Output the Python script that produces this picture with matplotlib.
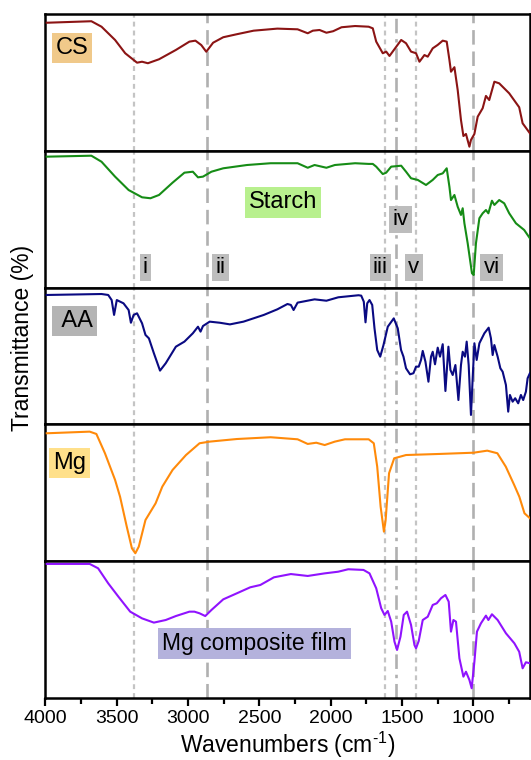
import matplotlib

matplotlib.use("Agg")
import matplotlib.pyplot as plt
from matplotlib.ticker import MultipleLocator

plt.rcParams["font.family"] = ["Liberation Sans", "DejaVu Sans"]
plt.rcParams["mathtext.fontset"] = "custom"
plt.rcParams["mathtext.rm"] = "Liberation Sans"
plt.rcParams["mathtext.it"] = "Liberation Sans:italic"

# ── Spectra (wavenumber cm-1, relative transmittance per panel) ──
CS_WN = [3990, 3677, 3606, 3511, 3440, 3357, 3322, 3281, 3203, 3085, 2990, 2948, 2907,
         2872, 2824, 2753, 2658, 2540, 2374, 2232, 2161, 2125, 2078, 2030, 1983, 1924,
         1829, 1734, 1705, 1681, 1635, 1611, 1588, 1506, 1472, 1437, 1402, 1378, 1343,
         1320, 1285, 1250, 1215, 1187, 1168, 1157, 1133, 1110, 1087, 1070, 1052, 1028,
         1017, 993, 970, 935, 912, 889, 853, 819, 749, 679, 655, 604]
CS_T = [93.6, 94.7, 90.7, 81.0, 71.3, 64.4, 65.1, 64.0, 66.9, 73.7, 79.8, 80.5, 77.3,
        72.4, 79.0, 83.0, 85.2, 87.8, 89.3, 88.8, 85.9, 87.8, 88.3, 86.3, 87.4, 90.3,
        91.2, 90.7, 89.5, 79.8, 71.3, 72.5, 69.3, 81.0, 78.6, 72.5, 71.3, 65.1, 70.0,
        68.8, 74.9, 77.4, 80.5, 79.8, 66.4, 57.8, 61.1, 44.4, 22.5, 10.8, 12.3, 3.0,
        7.9, 12.3, 24.9, 31.1, 40.1, 37.1, 50.5, 49.3, 42.0, 31.8, 20.1, 12.8]

STARCH_WN = [3990, 3677, 3606, 3511, 3416, 3322, 3263, 3203, 3108, 3025, 2966, 2930, 2895,
             2836, 2753, 2587, 2421, 2232, 2161, 2113, 2030, 1971, 1829, 1734, 1705, 1681,
             1635, 1611, 1576, 1506, 1472, 1437, 1390, 1332, 1285, 1250, 1215, 1187, 1168,
             1157, 1133, 1110, 1087, 1075, 1063, 1040, 1010, 998, 982, 958, 935, 912, 895,
             870, 853, 819, 784, 749, 702, 644, 604]
STARCH_T = [95.7, 96.4, 92.0, 81.1, 71.3, 66.0, 65.3, 67.7, 76.7, 84.0, 84.7, 80.6, 81.1,
            84.7, 87.2, 89.6, 90.9, 90.9, 87.6, 89.6, 87.6, 89.6, 90.9, 90.4, 90.4, 88.4,
            83.0, 84.0, 88.4, 89.1, 84.7, 79.9, 78.7, 75.0, 78.7, 82.3, 83.5, 87.2, 73.7,
            64.0, 67.7, 59.1, 53.1, 58.0, 47.0, 32.4, 10.5, 9.2, 32.4, 50.7, 54.3, 56.7, 54.3,
            63.5, 60.4, 64.0, 61.6, 54.3, 47.0, 42.1, 36.0]

AA_WN = [3990, 3606, 3559, 3535, 3518, 3499, 3452, 3416, 3400, 3381, 3357, 3322, 3298,
         3274, 3239, 3196, 3156, 3085, 3025, 2966, 2930, 2912, 2895, 2848, 2777, 2706,
         2611, 2469, 2374, 2303, 2279, 2260, 2232, 2113, 2030, 1947, 1805, 1786, 1768,
         1756, 1744, 1728, 1709, 1693, 1674, 1653, 1630, 1600, 1558, 1530, 1507, 1490,
         1472, 1444, 1420, 1402, 1383, 1367, 1355, 1336, 1315, 1297, 1285, 1269, 1250,
         1234, 1215, 1196, 1175, 1161, 1145, 1126, 1105, 1087, 1075, 1059, 1047, 1033,
         1017, 1005, 993, 977, 958, 923, 893, 877, 865, 853, 830, 811, 795, 772, 756, 744,
         725, 707, 686, 667, 651, 632, 620, 604]
AA_T = [94.6, 95.3, 94.6, 90.9, 80.0, 90.9, 88.5, 83.6, 74.3, 80.0, 81.2, 73.9, 65.4,
        62.9, 52.0, 39.3, 44.7, 56.8, 60.5, 66.6, 71.4, 67.8, 71.9, 75.1, 74.3, 73.1,
        75.1, 80.0, 84.1, 88.0, 87.3, 83.6, 89.0, 91.4, 90.4, 92.9, 94.4, 94.1, 89.7,
        74.6, 88.5, 90.9, 87.3, 70.2, 54.4, 49.5, 58.0, 71.4, 77.5, 70.2, 54.4, 49.5,
        41.0, 36.6, 37.4, 42.2, 42.2, 47.1, 53.7, 45.8, 31.2, 49.5, 53.1, 43.9, 56.1,
        49.5, 58.6, 24.4, 56.8, 39.8, 36.1, 43.4, 17.8, 43.4, 53.1, 49.5, 60.5, 43.4,
        6.9, 33.7, 59.3, 47.1, 59.3, 66.6, 70.7, 62.9, 50.7, 58.0, 49.5, 41.0, 38.5, 28.8,
        9.3, 21.5, 16.6, 19.1, 15.4, 21.5, 17.8, 23.9, 33.7, 37.4]

MG_WN = [3990, 3689, 3642, 3582, 3511, 3476, 3429, 3393, 3369, 3345, 3298, 3227, 3180,
         3108, 3014, 2919, 2848, 2658, 2421, 2232, 2161, 2101, 2042, 1971, 1900, 1734,
         1698, 1674, 1650, 1627, 1615, 1591, 1555, 1472, 1235, 998, 903, 832, 773, 714,
         678, 642, 604]
MG_T = [93.5, 94.7, 93.0, 78.9, 59.4, 47.1, 25.2, 9.4, 5.8, 10.6, 30.1, 42.3, 54.5,
        66.7, 77.6, 86.2, 87.4, 89.3, 90.6, 89.1, 85.7, 86.6, 84.9, 87.4, 89.1, 89.1,
        86.2, 69.1, 39.8, 21.6, 30.1, 64.3, 75.2, 77.6, 78.4, 79.3, 80.8, 78.9, 69.1, 55.7,
        47.1, 35.0, 31.4]

COMP_WN = [3990, 3689, 3630, 3559, 3488, 3405, 3322, 3239, 3156, 3085, 2990, 2955, 2919,
           2879, 2836, 2753, 2658, 2564, 2493, 2398, 2279, 2161, 2042, 1948, 1877, 1770,
           1728, 1681, 1646, 1623, 1600, 1576, 1553, 1535, 1511, 1488, 1465, 1437, 1413,
           1402, 1383, 1355, 1320, 1285, 1257, 1227, 1196, 1173, 1157, 1140, 1122, 1098,
           1070, 1052, 1028, 1012, 993, 975, 947, 912, 895, 870, 830, 772, 713, 679, 655,
           632, 604]
COMP_T = [98.0, 98.0, 94.8, 83.8, 74.1, 63.1, 58.2, 55.1, 57.0, 59.9, 63.1, 63.1, 61.9,
          59.9, 64.3, 72.1, 76.5, 80.9, 82.6, 88.2, 90.6, 89.2, 91.1, 92.3, 94.1, 93.6,
          91.1, 80.2, 65.6, 60.7, 63.6, 55.8, 41.2, 35.1, 44.8, 60.7, 63.1, 53.4, 38.7,
          36.3, 41.7, 57.0, 59.4, 68.0, 69.2, 72.9, 75.3, 70.4, 48.5, 57.0, 55.8, 29.0,
          15.6, 19.2, 13.2, 7.1, 26.5, 48.5, 54.6, 60.2, 57.0, 61.2, 57.0, 47.3, 40.0, 33.8,
          21.7, 26.1, 25.4]

SAMPLES = ["CS", "Starch", "AA", "Mg", "Mg composite film"]
SPECTRA = [(CS_WN, CS_T), (STARCH_WN, STARCH_T), (AA_WN, AA_T), (MG_WN, MG_T), (COMP_WN, COMP_T)]
LINE_COLORS = ["#8B1414", "#168C16", "#0A0A82", "#FF8A0A", "#9013FE"]
BOX_COLORS = ["#F0C98A", "#B8F08E", "#B4B4B4", "#FFE08A", "#B4B2DC"]
LABEL_TEXT = ["CS", "Starch", " AA", "Mg", "Mg composite film"]
LABEL_POS = [(3813, 75.0), (2333, 62.2), (3796, 75.7), (3827, 72.1), (2534, 40.0)]

# Band markers i–vi
BAND_WN = [3380, 2870, 1620, 1540, 1400, 1000]
BAND_LABELS = ["i", "ii", "iii", "iv", "v", "vi"]
BAND_LABEL_POS = [(3299, 14.7), (2772, 14.7), (1651, 14.7), (1511, 49.8), (1417, 14.7), (872, 14.7)]
SHORT = dict(color="#C4C4C4", lw=1.6, linestyle=(0, (2.2, 1.8)))
LONG = dict(color="#B0B0B0", lw=1.9, linestyle=(0, (5.5, 2.6)))
DASHDOT = dict(color="#B0B0B0", lw=1.9, linestyle=(0, (5.5, 2.2, 1.3, 2.2)))
BAND_STYLES = [SHORT, LONG, SHORT, DASHDOT, SHORT, LONG]

fig = plt.figure(figsize=(5.31, 7.6), dpi=100)
gs = fig.add_gridspec(5, 1, left=0.0853, right=0.999, top=0.9816, bottom=0.0816, hspace=0)
axes = []
for i in range(5):
    ax = fig.add_subplot(gs[i, 0], sharex=axes[0] if axes else None)
    axes.append(ax)

for i, ax in enumerate(axes):
    wn, t = SPECTRA[i]
    for x, st in zip(BAND_WN, BAND_STYLES):
        ax.axvline(x, zorder=1, **st)
    ax.plot(wn, t, color=LINE_COLORS[i], lw=1.5, zorder=3)
    ax.set_ylim(0, 100)
    ax.set_yticks([])
    for s in ax.spines.values():
        s.set_linewidth(1.8)
    lx, ly = LABEL_POS[i]
    ax.text(lx, ly, LABEL_TEXT[i], ha="center", va="center",
            fontsize=16.5 if i == 4 else 17, zorder=5,
            bbox=dict(boxstyle="square,pad=0.17", fc=BOX_COLORS[i], ec="none"))
    if i < 4:
        ax.tick_params(axis="x", which="both", bottom=False, labelbottom=False)

# roman band labels sit in the starch panel
for lab, (x, y) in zip(BAND_LABELS, BAND_LABEL_POS):
    axes[1].text(x, y, lab, ha="center", va="center", fontsize=16, zorder=5,
                 bbox=dict(boxstyle="square,pad=0.14", fc="#BDBDBD", ec="none"))

bx = axes[-1]
bx.set_xlim(4000, 600)
bx.xaxis.set_major_locator(MultipleLocator(500))
bx.xaxis.set_minor_locator(MultipleLocator(250))
bx.tick_params(axis="x", which="major", direction="out", length=6, width=1.6, labelsize=14, pad=3)
bx.tick_params(axis="x", which="minor", direction="out", length=4, width=1.6)
bx.set_xlabel(r"Wavenumbers (cm$^{\mathregular{\text{-}1}}$)", fontsize=16.5, labelpad=2)

fig.text(0.043, 0.556, "Transmittance (%)", rotation=90, ha="center", va="center", fontsize=16.5)

fig.savefig("out.png", dpi=100)
